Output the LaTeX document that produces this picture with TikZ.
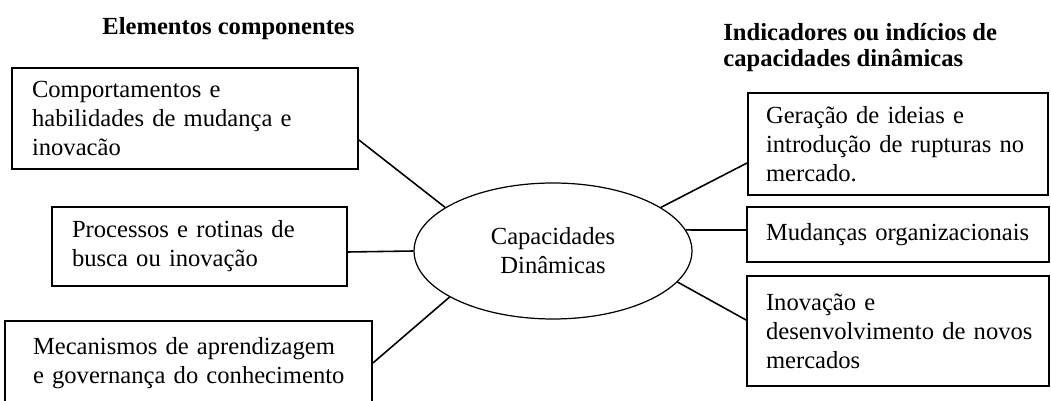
\documentclass[tikz,border=0pt]{standalone}
\usepackage{fontspec}
\setmainfont{Liberation Serif}
\usetikzlibrary{shapes.geometric}

\begin{document}
\begin{tikzpicture}[x=0.02cm,y=-0.02cm,
    box/.style={draw,line width=1.1pt,align=left,inner xsep=0.15cm,
      inner ysep=0pt,font=\fontsize{14}{16.5}\selectfont},
    pad/.style={execute at begin node={\leftskip=#1\relax}},
    hub/.style={draw,ellipse,line width=0.7pt,align=center,inner sep=0pt,
      minimum width=5.56cm,minimum height=2.72cm,
      font=\fontsize{14}{16.5}\selectfont},
    link/.style={line width=0.9pt},
    head/.style={inner sep=0pt,align=left,font=\fontsize{14}{14.7}\selectfont\bfseries}
  ]
  \useasboundingbox (0,0) rectangle (1051,401);
  \fill[white] (0,0) rectangle (1051,401);

  % headers
  \node[head,anchor=base west] (hleft) at (102,35) {Elementos componentes};
  \node[head,anchor=north west] (hright) at (723,23)
    {Indicadores ou indícios de\\capacidades dinâmicas};

  % centre
  \node[hub] (capac) at (553,251) {Capacidades\\Dinâmicas};

  % left column
  \node[box,pad=0.25cm,text width=6.62cm,minimum height=2.02cm] (comport)
    at (185,118.5)
    {Comportamentos e\\habilidades de mudança e\\inovacão};
  \node[box,pad=0.25cm,text width=5.6cm,minimum height=1.58cm] (processos)
    at (199.5,246.5)
    {Processos e rotinas de\\busca ou inovação};
  \node[box,pad=0.41cm,text width=7.04cm,minimum height=1.68cm] (mecanismos)
    at (188.5,363)
    {Mecanismos de aprendizagem\\e governança do conhecimento};

  % right column
  \node[box,pad=0.21cm,text width=5.7cm,minimum height=2.04cm] (geracao)
    at (898,144)
    {Geração de ideias e\\introdução de rupturas no\\mercado.};
  \node[box,pad=0.23cm,text width=5.74cm,minimum height=1.1cm] (mudancas)
    at (898,234.5) {Mudanças organizacionais};
  \node[box,pad=0.23cm,text width=5.74cm,minimum height=2.2cm] (inovacao)
    at (898,331)
    {Inovação e\\desenvolvimento de novos\\mercados};

  \draw[link] ([yshift=-0.43cm]comport.east) -- (capac.158);
  \draw[link] ([yshift=-0.11cm]processos.east) -- (capac.180);
  \draw[link] (mecanismos.east) -- (capac.204);
  \draw[link] (capac.22) -- ([yshift=-0.38cm]geracao.west);
  \draw[link] (capac.9) -- ([yshift=0.09cm]mudancas.west);
  \draw[link] (capac.-14) -- ([yshift=0.22cm]inovacao.west);
\end{tikzpicture}
\end{document}
